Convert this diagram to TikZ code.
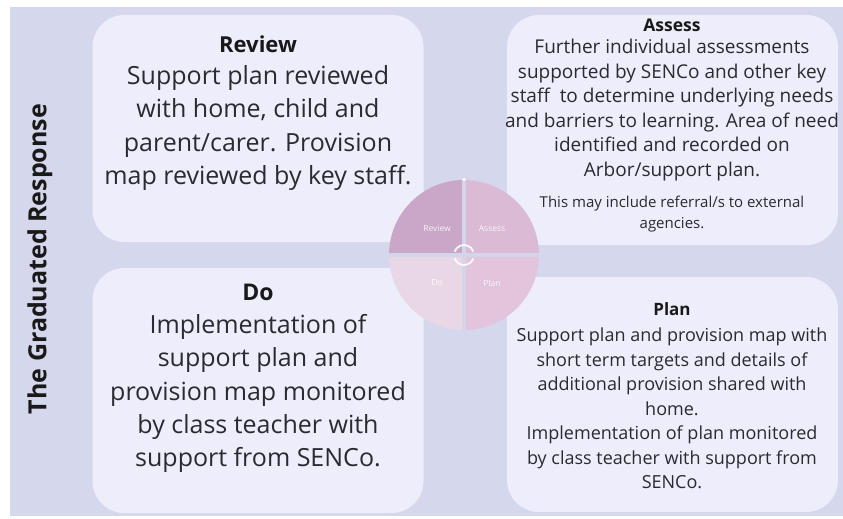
\documentclass[tikz,border=0pt]{standalone}
\usepackage{fontspec}
\setmainfont{Open Sans}
\definecolor{backdrop}{HTML}{D5D7EC}
\definecolor{panelFill}{HTML}{EDEDFB}
\definecolor{inkText}{HTML}{2A2A30}
\definecolor{seam}{HTML}{D3D5EB}
\definecolor{reviewQuarter}{HTML}{CAA7C8}
\definecolor{assessQuarter}{HTML}{DBBAD5}
\definecolor{doQuarter}{HTML}{E9D7E6}
\definecolor{planQuarter}{HTML}{E2C4DD}
\tikzset{
  panel/.style={fill=panelFill,rounded corners=32pt,inner sep=0pt,minimum width=331pt},
  heading/.style={font=\bfseries\fontsize{#1}{#1}\selectfont,text=black!90},
  body/.style 2 args={align=center,text=inkText,inner sep=0pt,font=\fontsize{#1}{#2}\selectfont},
}

\begin{document}
\begin{tikzpicture}[
  x=1pt,y=-1pt,
  quarter label/.style={text=white,opacity=0.85,font=\fontsize{8.5}{9}\selectfont},
  cycle mark/.style={draw=white,line width=1.8pt,opacity=0.9},
]
\useasboundingbox (0,0) rectangle (843,519);
\fill[backdrop] (10,7) rectangle (843,516);

% the four rounded panels
\node[panel,minimum height=227pt] (reviewPanel) at (258,128.5) {};
\node[panel,minimum height=245pt] (doPanel) at (258,390.5) {};
\node[panel,minimum height=230pt] (assessPanel) at (672.5,130) {};
\node[panel,minimum height=235pt] (planPanel) at (672.5,394.5) {};

\node[rotate=90,font=\bfseries\fontsize{25}{25}\selectfont,text=black!90] (sideTitle) at (40,259) {The Graduated Response};

% cycle wheel
\coordinate (hub) at (464,255);
\foreach \start/\shade/\name/\lx/\ly in {180/reviewQuarter/Review/437/228,270/assessQuarter/Assess/492/228,90/doQuarter/Do/437/283,0/planQuarter/Plan/492/283} {
  \fill[\shade] (hub) -- ([shift={(\start:75)}]hub) arc[start angle=\start,end angle=\start+90,radius=75] -- cycle;
  \node[quarter label] (wheel\name) at (\lx,\ly) {\name};
}
\draw[seam,line width=4pt] ([yshift=-77pt]hub) -- ([yshift=75pt]hub);
\draw[seam,line width=4pt] ([xshift=-75pt]hub) -- ([xshift=75pt]hub);
\fill[white] ([yshift=75.5pt]hub) circle[radius=1.6];
\draw[cycle mark] ([shift={(-160:10)}]hub) arc[start angle=-160,end angle=-20,radius=10];
\draw[cycle mark] ([shift={(-200:10)}]hub) arc[start angle=-200,end angle=-340,radius=10];

% panel texts
\node[heading=22] (reviewHead) at (258,44) {Review};
\node[body={25}{33.5}] (reviewText) at (258,128) {Support plan reviewed\\with home, child and\\parent/carer. Provision\\map reviewed by key staff.};

\node[heading=23] (doHead) at (258,292) {Do};
\node[body={25}{33.3}] (doText) at (258,393.5) {Implementation of\\support plan and\\provision map monitored\\by class teacher with\\support from SENCo.};

\node[heading=17.5] (assessHead) at (672,25) {Assess};
\node[body={19}{24.5}] (assessText) at (672,110) {Further individual assessments\\supported by SENCo and other key\\staff\ \ to determine underlying needs\\and barriers to learning. Area of need\\identified and recorded on\\Arbor/support plan.};
\node[body={15}{21}] (assessNote) at (672,214) {This may include referral/s to external\\agencies.};

\node[heading=17] (planHead) at (672,309) {Plan};
\node[body={18}{24.5}] (planText) at (672,408.5) {Support plan and provision map with\\short term targets and details of\\additional provision shared with\\home.\\Implementation of plan monitored\\by class teacher with support from\\SENCo.};
\end{tikzpicture}
\end{document}
